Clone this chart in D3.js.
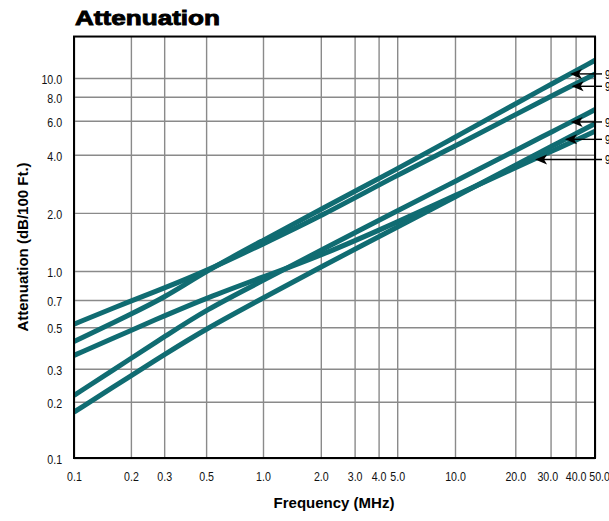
<!DOCTYPE html>
<html>
<head>
<meta charset="utf-8">
<script src="https://cdn.jsdelivr.net/npm/d3@7"></script>
<style>
body{margin:0;background:#fff}
.tick text{font-family:"Liberation Sans",Arial,sans-serif;font-size:13px;fill:#111}
</style>
</head>
<body>
<div id="chart"></div>
<script>
// frequency (MHz) where each curve was read
var freq = [0.1, 0.2, 0.3, 0.5, 1, 2, 5, 10, 20, 30, 50];
// attenuation dB/100 ft, one array per cable
var cableA = [0.52, 0.692, 0.81, 1.0, 1.38, 1.92, 3.14, 4.43, 6.46, 8.03, 10.5];
var cableB = [0.42, 0.588, 0.72, 1.0, 1.44, 2.09, 3.38, 4.93, 7.34, 9.25, 12.35];
var cableC = [0.354, 0.481, 0.575, 0.716, 0.929, 1.20, 1.79, 2.46, 3.42, 4.15, 5.29];
var cableD = [0.216, 0.341, 0.444, 0.621, 0.889, 1.28, 2.05, 2.91, 4.21, 5.22, 6.86];
var cableE = [0.176, 0.275, 0.357, 0.491, 0.717, 1.048, 1.69, 2.42, 3.53, 4.40, 5.80];
var series = [cableA, cableB, cableC, cableD, cableE];

var xTicks = [0.1, 0.2, 0.3, 0.5, 1, 2, 3, 4, 5, 10, 20, 30, 40, 50];
var yTicks = [0.1, 0.2, 0.3, 0.5, 0.7, 1, 2, 4, 6, 8, 10];

// callouts on the right side
var arrowFreq = [37.5, 38.2, 37.8, 35.4, 25.1];
var arrowAtt = [10.5, 9.06, 5.92, 4.81, 3.78];
var arrowLabels = ["9182", "9207", "9463", "9272", "9271"];

var teal = "#106c72";
var svg = d3.select("#chart").append("svg")
  .attr("width", 609)
  .attr("height", 521);

var x = d3.scaleLog().domain([0.1, 1, 10, 50]).range([74, 263, 455, 595]);
var y = d3.scaleLog().domain([0.1, 1, 10]).range([458, 271, 78]);
var yMax = 16.4;

var plotL = x(0.1), plotR = x(50), plotT = y(yMax), plotB = y(0.1);
var narrow = "scale(0.82,1)";

// grid + labels
var xg = svg.append("g")
  .attr("transform", "translate(0," + plotB + ")")
  .call(d3.axisBottom(x).tickValues(xTicks).tickFormat(d3.format(".1f"))
    .tickSizeInner(-(plotB - plotT)).tickSizeOuter(0).tickPadding(14));
xg.selectAll(".tick text").attr("transform", narrow)
  .attr("dx", function(d) { return d == 50 ? 5 : (d == 30 ? -4 : 0); });
svg.append("g")
  .attr("transform", "translate(" + plotL + ",0)")
  .call(d3.axisLeft(y).tickValues(yTicks).tickFormat(d3.format(".1f"))
    .tickSizeInner(-(plotR - plotL)).tickSizeOuter(0).tickPadding(14.5))
  .selectAll(".tick text").attr("transform", narrow).attr("dy", "0.42em");

svg.selectAll(".domain").remove();
svg.selectAll(".tick line").attr("stroke", "#8a8a8a").attr("stroke-width", 1.4);

svg.append("clipPath").attr("id", "plot")
  .append("rect")
  .attr("x", plotL).attr("y", plotT)
  .attr("width", plotR - plotL).attr("height", plotB - plotT);

var line = d3.line()
  .x(function(d) { return x(d[0]); })
  .y(function(d) { return y(d[1]); })
  .curve(d3.curveBasis);

svg.append("g").attr("clip-path", "url(#plot)")
  .selectAll("path")
  .data(series)
  .enter().append("path")
  .attr("d", function(s) { return line(s.map(function(v, i) { return [freq[i], v]; })); })
  .attr("fill", "none")
  .attr("stroke", teal)
  .attr("stroke-width", 5);

svg.append("rect")
  .attr("x", plotL).attr("y", plotT)
  .attr("width", plotR - plotL).attr("height", plotB - plotT)
  .attr("fill", "none")
  .attr("stroke", "#000")
  .attr("stroke-width", 2);

// arrows
var arrows = svg.append("g");
arrowFreq.forEach(function(f, i) {
  var tx = x(f), ty = y(arrowAtt[i]);
  arrows.append("line")
    .attr("x1", tx + 6).attr("y1", ty)
    .attr("x2", plotR + 7).attr("y2", ty)
    .attr("stroke", "#000").attr("stroke-width", 1.4);
  arrows.append("path")
    .attr("d", "M" + tx + "," + ty + "l12,-5l-3,5l3,5z")
    .attr("fill", "#000");
  arrows.append("text")
    .attr("transform", "translate(" + (plotR + 10) + "," + ty + ") scale(0.82,1)")
    .attr("dy", "0.4em")
    .style("font-family", "Liberation Sans, Arial, sans-serif")
    .style("font-size", "12px")
    .text(arrowLabels[i]);
});

svg.append("text")
  .attr("x", 75).attr("y", 25)
  .attr("textLength", 145).attr("lengthAdjust", "spacingAndGlyphs")
  .style("font-family", "Liberation Sans, Arial, sans-serif")
  .style("font-weight", "bold")
  .style("font-size", "21px")
  .attr("stroke", "#000").attr("stroke-width", 0.9)
  .text("Attenuation");

svg.append("text")
  .attr("x", 334).attr("y", 508)
  .attr("text-anchor", "middle")
  .style("font-family", "Liberation Sans, Arial, sans-serif")
  .style("font-weight", "bold")
  .style("font-size", "15px")
  .text("Frequency (MHz)");

svg.append("text")
  .attr("transform", "translate(28,247) rotate(-90)")
  .attr("text-anchor", "middle")
  .style("font-family", "Liberation Sans, Arial, sans-serif")
  .style("font-weight", "bold")
  .style("font-size", "15px")
  .text("Attenuation (dB/100 Ft.)");
</script>
</body>
</html>
